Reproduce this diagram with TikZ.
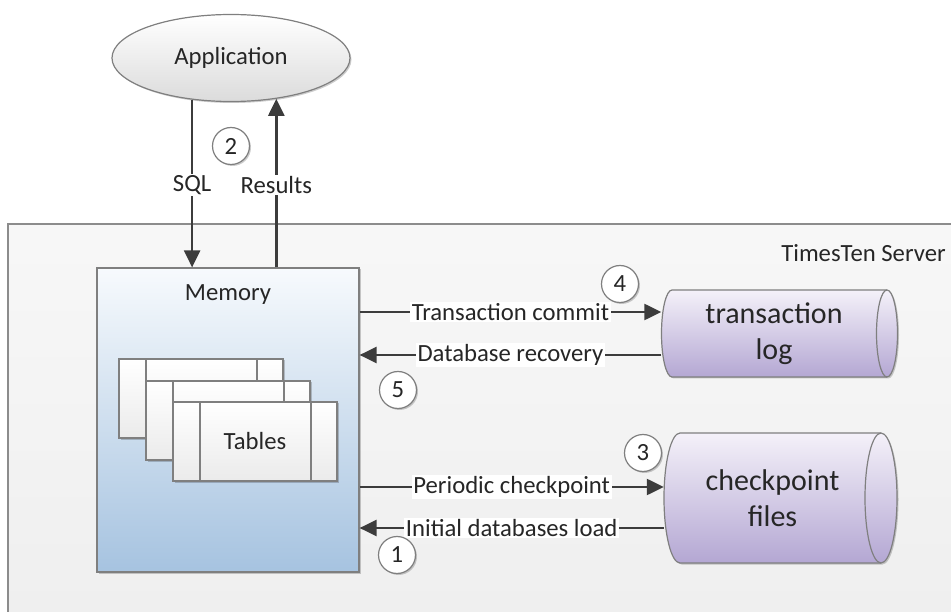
\documentclass[tikz,border=0pt]{standalone}
\usepackage{fontspec}
\setmainfont{Carlito}
\usetikzlibrary{arrows.meta,shapes.geometric,shadows}
\definecolor{ink}{HTML}{262626}
\definecolor{wire}{HTML}{3C3C3C}
\definecolor{edgec}{HTML}{7F7F7F}
\definecolor{srvedge}{HTML}{8C8C8C}
\definecolor{memtop}{HTML}{F7FAFD}
\definecolor{membot}{HTML}{A6C3E0}
\definecolor{cyltop}{HTML}{F4F1F9}
\definecolor{cylbot}{HTML}{B4A7D3}
\tikzset{
  softshadow/.style={drop shadow={shadow xshift=1.5pt, shadow yshift=-1.5pt, opacity=0.2, fill=black}},
  appell/.style={ellipse, draw=edgec, line width=1.2pt, top color=white, bottom color=black!14,
    minimum width=238pt, minimum height=87pt, inner sep=0pt, softshadow},
  membox/.style={rectangle, draw=edgec, line width=1.2pt, top color=memtop, bottom color=membot,
    minimum width=262pt, minimum height=304pt, inner sep=0pt, softshadow},
  tbl/.style={rectangle, draw=edgec, line width=1.2pt, top color=white, bottom color=black!8,
    minimum width=164pt, minimum height=79pt, inner sep=0pt, softshadow,
    path picture={
      \draw[edgec, line width=1.2pt] ([xshift=27pt]path picture bounding box.north west) -- ([xshift=27pt]path picture bounding box.south west);
      \draw[edgec, line width=1.2pt] ([xshift=-26pt]path picture bounding box.north east) -- ([xshift=-26pt]path picture bounding box.south east);
    }},
  cylpath/.style={draw=edgec, line width=1.2pt, top color=cyltop, bottom color=cylbot, softshadow},
  cyltext/.style={inner sep=0pt, align=center, font=\fontsize{30}{36}\selectfont},
  conn/.style={draw=wire, line width=2.4pt, -{Triangle[length=17pt,width=16pt]}},
  lbl/.style={fill=white, inner sep=1.5pt, text=ink},
  num/.style={circle, draw=edgec, line width=1.2pt, fill=white, minimum size=37pt, inner sep=0pt, softshadow}
}
\begin{document}
\begin{tikzpicture}[x=1pt, y=-1pt, font=\fontsize{24.7}{29}\selectfont, text=ink]
\useasboundingbox (0,0) rectangle (951,612);

% TimesTen server area
\path[top color=white!97!black, bottom color=white!93!black] (8,224) rectangle (1000,700);
\draw[draw=srvedge, line width=2pt] (8,700) -- (8,224) -- (1000,224);
\node (srvlbl) at (863.5,253) {TimesTen Server};

% Application
\node[appell] (app) at (231,58) {Application};

% Memory
\node[membox] (mem) at (228,420) {};
\node (memlbl) at (228,295) {Memory};

% Tables
\node[tbl] (t1) at (201,398.5) {};
\node[tbl] (t2) at (228,420.5) {};
\node[tbl] (t3) at (255,441.5) {Tables};

% transaction log cylinder
\path[cylpath] (672,290) -- (887,290)
  arc[start angle=90, end angle=-90, x radius=10.5pt, y radius=43.5pt]
  -- (672,377)
  arc[start angle=270, end angle=90, x radius=10.5pt, y radius=43.5pt] -- cycle;
\draw[edgec, line width=1.2pt] (887,290) arc[start angle=90, end angle=270, x radius=10.5pt, y radius=43.5pt];
\node[cyltext, minimum width=225pt, minimum height=87pt] (tlog) at (774,333.5) {transaction\\log};

% checkpoint files cylinder
\path[cylpath] (680,433) -- (881,433)
  arc[start angle=90, end angle=-90, x radius=16pt, y radius=65pt]
  -- (680,563)
  arc[start angle=270, end angle=90, x radius=16pt, y radius=65pt] -- cycle;
\draw[edgec, line width=1.2pt] (881,433) arc[start angle=90, end angle=270, x radius=16pt, y radius=65pt];
\node[cyltext, minimum width=217pt, minimum height=130pt] (ckpt) at (772.5,498) {checkpoint\\files};

% helper rows
\coordinate (rowA) at (0,312);
\coordinate (rowB) at (0,355);
\coordinate (rowC) at (0,487);
\coordinate (rowD) at (0,528);

% connectors
\draw[conn] (app.227) -- node[lbl, pos=0.51] (sqllbl) {SQL} (mem.north -| app.227);
\draw[conn] (mem.north -| app.318) -- node[lbl, pos=0.49] (reslbl) {Results} (app.318);
\draw[conn] (mem.east |- rowA) -- node[lbl] (tclbl) {Transaction commit} (tlog.west |- rowA);
\draw[conn] (tlog.west |- rowB) -- node[lbl] (drlbl) {Database recovery} (mem.east |- rowB);
\draw[conn] (mem.east |- rowC) -- node[lbl] (pclbl) {Periodic checkpoint} (ckpt.west |- rowC);
\draw[conn] (ckpt.west |- rowD) -- node[lbl] (illbl) {Initial databases load} (mem.east |- rowD);

% step numbers
\node[num] (n2) at (231,146) {2};
\node[num] (n4) at (620,284) {4};
\node[num] (n5) at (398,390) {5};
\node[num] (n3) at (643,453) {3};
\node[num] (n1) at (397,555) {1};
\end{tikzpicture}
\end{document}
